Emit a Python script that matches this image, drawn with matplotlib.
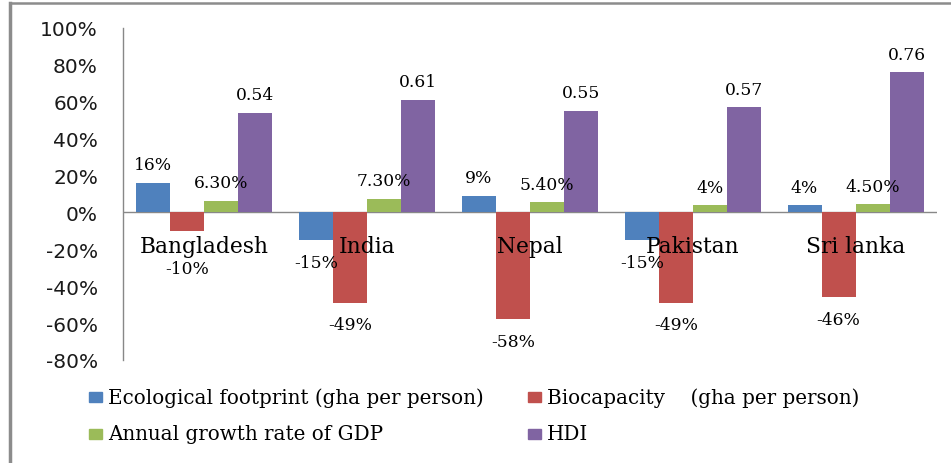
import matplotlib
matplotlib.use("Agg")
import matplotlib.pyplot as plt
from matplotlib.patches import Rectangle
from matplotlib.lines import Line2D
from matplotlib.ticker import FuncFormatter
import numpy as np

# ---- data ----
countries = ["Bangladesh", "India", "Nepal", "Pakistan", "Sri lanka"]
series_names = ["Ecological footprint (gha per person)",
                "Biocapacity    (gha per person)",
                "Annual growth rate of GDP",
                "HDI"]
eco_footprint = [0.16, -0.15, 0.09, -0.15, 0.04]
biocapacity = [-0.10, -0.49, -0.58, -0.49, -0.46]
gdp_growth = [0.063, 0.073, 0.054, 0.04, 0.045]
hdi = [0.54, 0.61, 0.55, 0.57, 0.76]
eco_labels = ["16%", "-15%", "9%", "-15%", "4%"]
bio_labels = ["-10%", "-49%", "-58%", "-49%", "-46%"]
gdp_labels = ["6.30%", "7.30%", "5.40%", "4%", "4.50%"]
hdi_labels = ["0.54", "0.61", "0.55", "0.57", "0.76"]
y_ticks = [-0.8, -0.6, -0.4, -0.2, 0.0, 0.2, 0.4, 0.6, 0.8, 1.0]

colors = ["#4F81BD", "#C0504D", "#9BBB59", "#8064A2"]
values = [eco_footprint, biocapacity, gdp_growth, hdi]
labels = [eco_labels, bio_labels, gdp_labels, hdi_labels]

W, H = 951, 464
fig = plt.figure(figsize=(W / 100, H / 100), dpi=100)
ax = fig.add_axes([123 / W, 1 - 361 / H, (937 - 123) / W, (361 - 29) / H])

x = np.arange(len(countries))
bw = 0.209
serif = "DejaVu Serif"

for k, (vals, labs, c) in enumerate(zip(values, labels, colors)):
    xs = x + (k - 1.5) * bw
    ax.bar(xs, vals, width=bw, color=c, zorder=2)
    for xi, v, lab, ci in zip(xs, vals, labs, range(len(countries))):
        if v >= 0:
            off = 18
        else:
            off = -22
            if k == 1 and ci == 0:
                off = -38
        ax.annotate(lab, (xi, v), xytext=(0, off), textcoords="offset pixels",
                    ha="center", va="center", fontsize=12.3, family=serif,
                    color="black", zorder=3)

# category labels at the zero line
for xi, name in zip(x, countries):
    ax.annotate(name, (xi, 0), xytext=(0, -34), textcoords="offset pixels",
                ha="center", va="center", fontsize=15.7, family=serif,
                color="black", zorder=3)

ax.set_xlim(-0.5, len(countries) - 0.5)
ax.set_ylim(-0.8, 1.0)
ax.set_yticks(y_ticks)
ax.yaxis.set_major_formatter(FuncFormatter(lambda v, p: f"{v * 100:.0f}%"))
ax.tick_params(axis="y", length=0, pad=18, labelsize=14.5, labelcolor="#1a1a1a")
ax.set_xticks([])
for s in ["top", "right", "bottom"]:
    ax.spines[s].set_visible(False)
ax.spines["left"].set_color("#888888")
ax.spines["left"].set_linewidth(1.0)
ax.axhline(0, color="#888888", linewidth=1.0, zorder=1)
for t in ax.get_yticklabels():
    t.set_family("DejaVu Sans")

# legend drawn manually
leg_pos = [(89, 398), (528, 398), (89, 435), (528, 435)]
for (lx, ly), name, c in zip(leg_pos, series_names, colors):
    fig.patches.append(Rectangle((lx / W, 1 - (ly + 5) / H), 13 / W, 10 / H,
                                 transform=fig.transFigure, color=c))
    fig.text((lx + 19) / W, 1 - ly / H, name, ha="left", va="center",
             fontsize=14.3, family=serif, color="black")

# outer chart border (left and top)
fig.lines.append(Line2D([10 / W, 10 / W], [0, 1 - 3.5 / H], transform=fig.transFigure,
                        color="#8c8c8c", linewidth=2.5))
fig.lines.append(Line2D([10 / W, 1], [1 - 3.5 / H, 1 - 3.5 / H], transform=fig.transFigure,
                        color="#8c8c8c", linewidth=1.8))

fig.savefig("out.png", dpi=100)
